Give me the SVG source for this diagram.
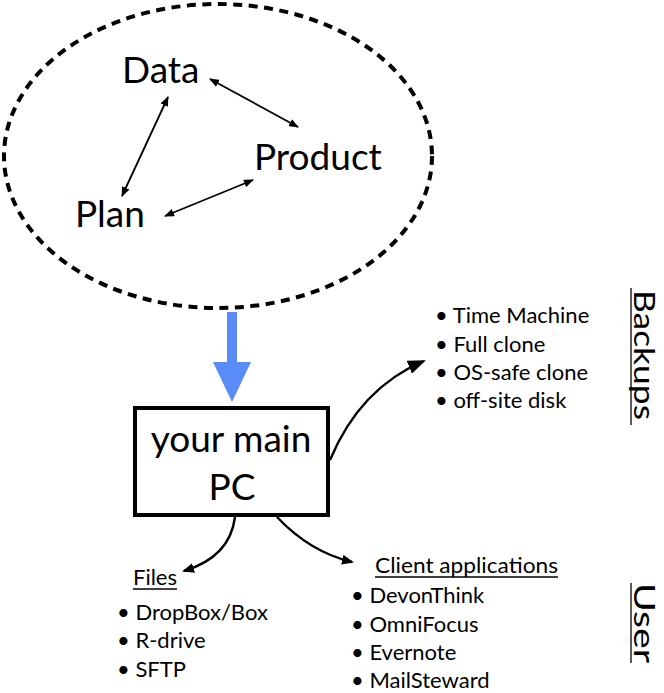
<svg xmlns="http://www.w3.org/2000/svg" width="664" height="693" viewBox="0 0 664 693">
<style>
text{font-family:Lato,"Open Sans","Liberation Sans",sans-serif;fill:#000}
.big{font-size:37px}
.box{font-size:37px}
.li{font-size:22px}
.thin{fill:none;stroke:#000;stroke-width:1.8}
.curve{fill:none;stroke:#000;stroke-width:2.4}
.ul{stroke:#000;stroke-width:1.3}
</style>
<defs>
<marker id="sa" viewBox="0 0 10 8" refX="9" refY="4" markerWidth="10" markerHeight="8" markerUnits="userSpaceOnUse" orient="auto-start-reverse"><path d="M0,0 L10,4 L0,8 z" fill="#000"/></marker>
<marker id="ma" viewBox="0 0 12 10" refX="10" refY="5" markerWidth="12" markerHeight="10" markerUnits="userSpaceOnUse" orient="auto"><path d="M0,0 L12,5 L0,10 z" fill="#000"/></marker>
<marker id="la" viewBox="0 0 18 14" refX="16" refY="7" markerWidth="18" markerHeight="14" markerUnits="userSpaceOnUse" orient="auto"><path d="M0,0 L18,7 L0,14 z" fill="#000"/></marker>
</defs>
<g id="cycle">
<ellipse cx="218" cy="156" rx="214" ry="152" fill="none" stroke="#000" stroke-width="4" stroke-dasharray="9 6.5"/>
</g>
<g id="data"><text class="big" x="122" y="83">Data</text></g>
<g id="product"><text class="big" x="254" y="170">Product</text></g>
<g id="plan"><text class="big" x="75" y="227">Plan</text></g>
<g id="pc">
<rect x="135" y="408" width="193" height="107" fill="#fff" stroke="#000" stroke-width="4"/>
<text class="box" x="231" y="452" text-anchor="middle">your main</text>
<text class="box" x="232" y="500" text-anchor="middle">PC</text>
</g>
<g id="backups">
<text class="li" x="435" y="323">• Time Machine</text>
<text class="li" x="435" y="352">• Full clone</text>
<text class="li" x="435" y="380">• OS-safe clone</text>
<text class="li" x="435" y="408">• off-site disk</text>
<text transform="translate(634,290) rotate(90)" font-size="29" textLength="130" lengthAdjust="spacingAndGlyphs">Backups</text>
<line class="ul" x1="631" y1="288" x2="631" y2="425"/>
</g>
<g id="files">
<text class="li" x="133" y="585">Files</text>
<line class="ul" x1="133" y1="589" x2="177" y2="589"/>
<text class="li" x="117" y="620">• DropBox/Box</text>
<text class="li" x="117" y="648">• R-drive</text>
<text class="li" x="117" y="677">• SFTP</text>
</g>
<g id="clients">
<text class="li" x="375" y="573" textLength="183" lengthAdjust="spacingAndGlyphs">Client applications</text>
<line class="ul" x1="375" y1="577" x2="558" y2="577"/>
<text class="li" x="351" y="603">• DevonThink</text>
<text class="li" x="351" y="632">• OmniFocus</text>
<text class="li" x="351" y="660">• Evernote</text>
<text class="li" x="351" y="688">• MailSteward</text>
</g>
<g id="user">
<text transform="translate(634,583) rotate(90)" font-size="29" textLength="80" lengthAdjust="spacingAndGlyphs">User</text>
<line class="ul" x1="631" y1="583" x2="631" y2="663"/>
</g>
<g id="connectors">
<line class="thin" x1="210" y1="79" x2="298" y2="127" marker-start="url(#sa)" marker-end="url(#sa)"/>
<line class="thin" x1="168" y1="97" x2="122" y2="196" marker-start="url(#sa)" marker-end="url(#sa)"/>
<line class="thin" x1="165" y1="216" x2="253" y2="180" marker-start="url(#sa)" marker-end="url(#sa)"/>
<path d="M227,312 H237 V362 H251 L232,402 L213,362 H227 Z" fill="#5A8CF7"/>
<path class="curve" d="M330,460 Q360,388 424,361" stroke-width="3.2" marker-end="url(#la)"/>
<path class="curve" d="M235,517 Q230,557 184,571" marker-end="url(#ma)"/>
<path class="curve" d="M277,517 Q310,552 352,562" marker-end="url(#ma)"/>
</g>
</svg>
